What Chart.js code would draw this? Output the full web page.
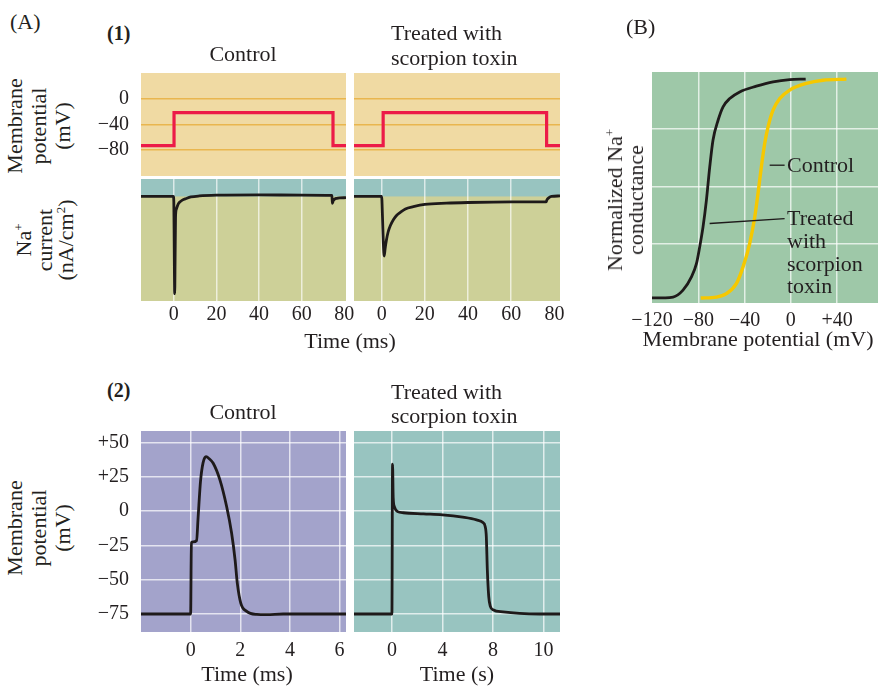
<!DOCTYPE html>
<html>
<head>
<meta charset="utf-8">
<script src="https://cdn.jsdelivr.net/npm/chart.js@4.4.0/dist/chart.umd.min.js"></script>
<style>
  body { margin: 0; background: #fff; }
  #fig { position: relative; width: 888px; height: 686px; font-family: "Liberation Serif", serif; color: #231f20; overflow: hidden; }
  .box { position: absolute; z-index: 1; }
  .t { position: absolute; z-index: 2; font-size: 22px; line-height: 24px; white-space: nowrap; }
  .c { transform: translateX(-50%); text-align: center; }
  .b { font-weight: bold; font-size: 20px; }
  .rot { position: absolute; z-index: 2; font-size: 22px; white-space: nowrap; text-align: center; transform: translate(-50%, -50%) rotate(-90deg); }
  sup { font-size: 13px; line-height: 0; vertical-align: 8px; }
</style>
</head>
<body>
<div id="fig">
  <div class="t" style="left:10px;top:10px">(A)</div>
  <div class="t b" style="left:107px;top:21px">(1)</div>
  <div class="t c" style="left:243px;top:42px">Control</div>
  <div class="t" style="left:391px;top:20px;line-height:25px">Treated with<br>scorpion toxin</div>
  <div class="rot" style="left:39px;top:126px;line-height:24px">Membrane<br>potential<br>(mV)</div>
  <div class="rot" style="left:44px;top:240px;line-height:21px">Na<sup>+</sup><br>current<br>(nA/cm<sup>2</sup>)</div>
  <div class="t c" style="left:350px;top:329px">Time (ms)</div>

  <div class="t" style="left:626px;top:15px">(B)</div>
  <div class="rot" style="left:625px;top:200px;line-height:21px">Normalized Na<sup>+</sup><br>conductance</div>
  <div class="t c" style="left:758px;top:327px">Membrane potential (mV)</div>
  <div class="t" style="left:787px;top:153px">Control</div>
  <div class="t" style="left:787px;top:207px;line-height:22.8px">Treated<br>with<br>scorpion<br>toxin</div>

  <div class="t b" style="left:107px;top:378px">(2)</div>
  <div class="t c" style="left:243px;top:400px">Control</div>
  <div class="t" style="left:391px;top:380px;line-height:23.5px">Treated with<br>scorpion toxin</div>
  <div class="rot" style="left:39px;top:528px;line-height:24px">Membrane<br>potential<br>(mV)</div>
  <div class="t c" style="left:247px;top:662px">Time (ms)</div>
  <div class="t c" style="left:457px;top:662px">Time (s)</div>

  <div class="box" id="a1vc"><canvas></canvas></div>
  <div class="box" id="a1vt"><canvas></canvas></div>
  <div class="box" id="a1ic"><canvas></canvas></div>
  <div class="box" id="a1it"><canvas></canvas></div>
  <div class="box" id="bg"><canvas></canvas></div>
  <div class="box" id="a2c"><canvas></canvas></div>
  <div class="box" id="a2t"><canvas></canvas></div>
</div>
<script>
// (A1) voltage-clamp step, mV
const stepCtrlT = [-15.4, 0.1, 0.1, 74.7, 74.7, 80.8];
const stepToxT = [-12.8, 0.7, 0.7, 76.4, 76.4, 82.6];
const stepV = [-73.3, -73.3, -21.5, -21.5, -73.3, -73.3];
const vStepTicks = [0, -40, -80];
const vStepLabels = ['0', '−40', '−80'];

// (A1) Na+ current, nA/cm2
const iCtrlT = [-15.4, -0.2, 0, 0.2, 0.4, 0.6, 0.8, 1.2, 2, 2.7, 4, 5.8, 8, 12, 20, 40, 60, 74.2, 74.4, 74.8, 75.5, 76.5, 78, 80.8];
const iCtrl = [0, 0, -5, -50, -93, -60, -20, -12, -7.5, -5.5, -3.5, -2, -0.5, 0.5, 1.2, 1.5, 1.3, 1, -6.5, -4, -2.5, -1.8, -1.4, -1.2];
const iToxT = [-12.8, 0, 0.4, 0.8, 1.2, 1.6, 2.2, 3, 4, 5.5, 7, 8.5, 11, 14.7, 20, 30, 40, 60, 76.2, 76.6, 77.5, 78.7, 82.6];
const iTox = [0, 0, -20, -45, -57, -50, -42, -34, -28, -22, -18, -15.5, -12, -9.8, -7.6, -6.4, -5.8, -5.2, -5.2, -3, -1.2, 0, 0.5];
const timeTicksA1 = [0, 20, 40, 60, 80];
const timeLabelsA1 = ['0', '20', '40', '60', '80'];

// (B) normalized Na+ conductance vs membrane potential
const vTreatedB = [-120, -117.6, -101.8, -93.2, -85.9, -81.6, -78.8, -75.9, -73, -70.1, -67.3, -62.9, -58.6, -52.8, -44.2, -29.8, -15.4, -1, 12.8];
const gTreated = [0.012, 0.012, 0.016, 0.046, 0.104, 0.162, 0.235, 0.323, 0.439, 0.585, 0.702, 0.789, 0.848, 0.884, 0.913, 0.938, 0.957, 0.967, 0.969];
const vControlB = [-77.9, -64.3, -55.7, -47.1, -41.3, -35.6, -31.2, -28.4, -25.5, -22.6, -19.7, -15.4, -9.6, -1, 13.4, 27.8, 48];
const gControl = [0.012, 0.016, 0.031, 0.075, 0.148, 0.25, 0.366, 0.469, 0.585, 0.687, 0.76, 0.833, 0.884, 0.921, 0.95, 0.964, 0.969];
const vTicksB = [-120, -80, -40, 0, 40];
const vLabelsB = ['−120', '−80', '−40', '0', '+40'];
const gTicksB = [0.25, 0.5, 0.75];

// (A2) action potentials, mV
const apCtrlT = [-2, 0, 0.03, 0.1, 0.24, 0.3, 0.4, 0.5, 0.62, 0.75, 0.91, 1.18, 1.45, 1.65, 1.79, 1.88, 2.02, 2.26, 2.66, 3.06, 3.73, 6.3];
const apCtrl = [-75, -75, -23, -22.5, -21.5, -5, 22, 35, 39.5, 38, 34.7, 22.6, 3.2, -16.1, -35.5, -52.5, -67, -73.1, -75.3, -75.5, -75, -75];
const apToxT = [-3, 0, 0.05, 0.1, 0.2, 0.45, 0.9, 2.5, 4, 5.6, 6.7, 7.2, 7.38, 7.47, 7.55, 7.66, 7.79, 8, 8.8, 10.1, 11.7, 13.3];
const apTox = [-75, -75, 34, 10, 3, -0.5, -1.3, -2.1, -2.8, -4.5, -6.5, -8.4, -11.3, -18.6, -42.8, -62.2, -69.5, -71.9, -73.5, -74.6, -75, -75];
const apTicks = [50, 25, 0, -25, -50, -75];
const apLabels = ['+50', '+25', '0', '−25', '−50', '−75'];
const msTicksA2 = [0, 2, 4, 6];
const msLabelsA2 = ['0', '2', '4', '6'];
const sTicksA2 = [0, 4, 8, 12];
const sLabelsA2 = ['0', '4', '8', '10'];

Chart.defaults.font.family = '"Liberation Serif", serif';
Chart.defaults.font.size = 20;
Chart.defaults.color = '#231f20';

const RED = '#ec1b48', INK = '#1e1a1a', GOLD = '#f6c800';

function pts(xs, ys) {
  return xs.map((x, i) => ({x: x, y: ys[i]}));
}

// fills the plot area; optional second colour above a y value
const panelBg = {
  id: 'panelBg',
  beforeDraw(chart, args, opts) {
    const {ctx, chartArea: a} = chart;
    ctx.save();
    ctx.fillStyle = opts.color;
    ctx.fillRect(a.left, a.top, a.width, a.height);
    if (opts.upper) {
      const yp = chart.scales.y.getPixelForValue(opts.split);
      ctx.fillStyle = opts.upper;
      ctx.fillRect(a.left, a.top, a.width, yp - a.top);
    }
    ctx.restore();
  }
};

// thin leader lines for the curve labels (data units)
const leaders = {
  id: 'leaders',
  afterDatasetsDraw(chart, args, opts) {
    if (!opts.lines) return;
    const {ctx, scales: {x, y}} = chart;
    ctx.save();
    ctx.strokeStyle = INK;
    ctx.lineWidth = 1.3;
    opts.lines.forEach(l => {
      ctx.beginPath();
      ctx.moveTo(x.getPixelForValue(l[0]), y.getPixelForValue(l[1]));
      ctx.lineTo(x.getPixelForValue(l[2]), y.getPixelForValue(l[3]));
      ctx.stroke();
    });
    ctx.restore();
  }
};

function axis(min, max, ticks, labels, o) {
  return {
    type: 'linear', min: min, max: max,
    display: o.show !== false,
    afterBuildTicks: s => { s.ticks = ticks.map(v => ({value: v})); },
    afterFit: s => {
      if (o.w !== undefined) s.width = o.w;
      if (o.h !== undefined) s.height = o.h;
      s.paddingLeft = 0; s.paddingRight = 0; s.paddingTop = 0; s.paddingBottom = 0;
    },
    border: {display: false},
    grid: {
      display: !!o.grid,
      drawTicks: false,
      lineWidth: o.gw || 1.5,
      color: c => (o.skip || []).includes(c.tick && c.tick.value) ? 'rgba(0,0,0,0)' : o.grid
    },
    ticks: {
      display: !!labels, padding: o.pad || 0, autoSkip: false, maxRotation: 0,
      callback: (v, i) => labels ? labels[i] : ''
    }
  };
}

function line(xs, ys, color, width, stepped) {
  return {
    data: pts(xs, ys), borderColor: color, borderWidth: width,
    pointRadius: 0, fill: false,
    tension: stepped ? 0 : 0.4,
    cubicInterpolationMode: stepped ? 'default' : 'monotone'
  };
}

// plot = [left, top, right, bottom] of the plot area on the page
function panel(id, plot, sp, scales, datasets, bg, extra) {
  const [L, T, R, B] = plot;
  const el = document.getElementById(id);
  el.style.left = (L - sp.yW - sp.pl) + 'px';
  el.style.top = (T - sp.pt) + 'px';
  el.style.width = (R - L + sp.yW + sp.pl + sp.pr) + 'px';
  el.style.height = (B - T + sp.pt + sp.xH) + 'px';
  return new Chart(el.querySelector('canvas'), {
    type: 'line',
    data: {datasets: datasets},
    options: {
      responsive: true, maintainAspectRatio: false, animation: false,
      layout: {padding: {left: sp.pl, right: sp.pr, top: sp.pt, bottom: 0}},
      plugins: {legend: {display: false}, tooltip: {enabled: false}, panelBg: bg, leaders: extra || {}},
      scales: scales
    },
    plugins: [panelBg, leaders]
  });
}

// (A1) membrane potential step
panel('a1vc', [141, 73, 346, 176], {yW: 60, xH: 0, pl: 0, pr: 0, pt: 10},
  {x: axis(-15.4, 80.8, [], null, {show: false}),
   y: axis(-120.8, 40.8, vStepTicks, vStepLabels, {w: 60, grid: '#e9b64f', gw: 1.5, pad: 12})},
  [line(stepCtrlT, stepV, RED, 3.2, true)], {color: '#f0daa3'});
panel('a1vt', [354, 73, 560, 176], {yW: 0, xH: 0, pl: 0, pr: 0, pt: 0},
  {x: axis(-12.8, 82.6, [], null, {show: false}),
   y: axis(-120.8, 40.8, vStepTicks, null, {w: 0, grid: '#e9b64f', gw: 1.5})},
  [line(stepToxT, stepV, RED, 3.2, true)], {color: '#f0daa3'});

// (A1) Na+ current
panel('a1ic', [141, 179, 346, 301], {yW: 0, xH: 30, pl: 10, pr: 12, pt: 0},
  {x: axis(-15.4, 80.8, timeTicksA1, timeLabelsA1, {h: 30, grid: 'rgba(255,255,255,0.65)', skip: [80], pad: 2}),
   y: axis(-100, 16.7, [], null, {show: false})},
  [line(iCtrlT, iCtrl, INK, 2.8)], {color: '#cdd098', upper: '#98c4c0', split: 0});
panel('a1it', [354, 179, 560, 301], {yW: 0, xH: 30, pl: 0, pr: 20, pt: 0},
  {x: axis(-12.8, 82.6, timeTicksA1, timeLabelsA1, {h: 30, grid: 'rgba(255,255,255,0.65)', skip: [80], pad: 2}),
   y: axis(-100, 16.7, [], null, {show: false})},
  [line(iToxT, iTox, INK, 2.8)], {color: '#cdd098', upper: '#98c4c0', split: 0});

// (B) conductance
panel('bg', [652, 72, 878, 303], {yW: 0, xH: 30, pl: 30, pr: 8, pt: 0},
  {x: axis(-120, 75.3, vTicksB, vLabelsB, {h: 30, grid: 'rgba(255,255,255,0.7)', skip: [-120], pad: 6}),
   y: axis(-0.01, 1.0, gTicksB, null, {w: 0, grid: 'rgba(255,255,255,0.7)'})},
  [line(vTreatedB, gTreated, INK, 2.8), line(vControlB, gControl, GOLD, 3.4)],
  {color: '#9ec8a8'},
  {lines: [[-18.3, 0.5925, -5.4, 0.5925], [-70.2, 0.3375, -5.4, 0.359]]});

// (A2) action potentials
panel('a2c', [141, 431, 346, 632], {yW: 60, xH: 30, pl: 0, pr: 0, pt: 12},
  {x: axis(-2, 6.26, msTicksA2, msLabelsA2, {h: 30, grid: 'rgba(255,255,255,0.7)', pad: 7}),
   y: axis(-88.1, 58.2, apTicks, apLabels, {w: 60, grid: 'rgba(255,255,255,0.7)', pad: 12})},
  [line(apCtrlT, apCtrl, INK, 2.8)], {color: '#a3a3cb'});
panel('a2t', [354, 431, 560, 632], {yW: 0, xH: 30, pl: 0, pr: 10, pt: 0},
  {x: axis(-3, 13.3, sTicksA2, sLabelsA2, {h: 30, grid: 'rgba(255,255,255,0.7)', pad: 7}),
   y: axis(-88.1, 58.2, apTicks, null, {w: 0, grid: 'rgba(255,255,255,0.7)'})},
  [line(apToxT, apTox, INK, 2.8)], {color: '#98c4c0'});
</script>
</body>
</html>
